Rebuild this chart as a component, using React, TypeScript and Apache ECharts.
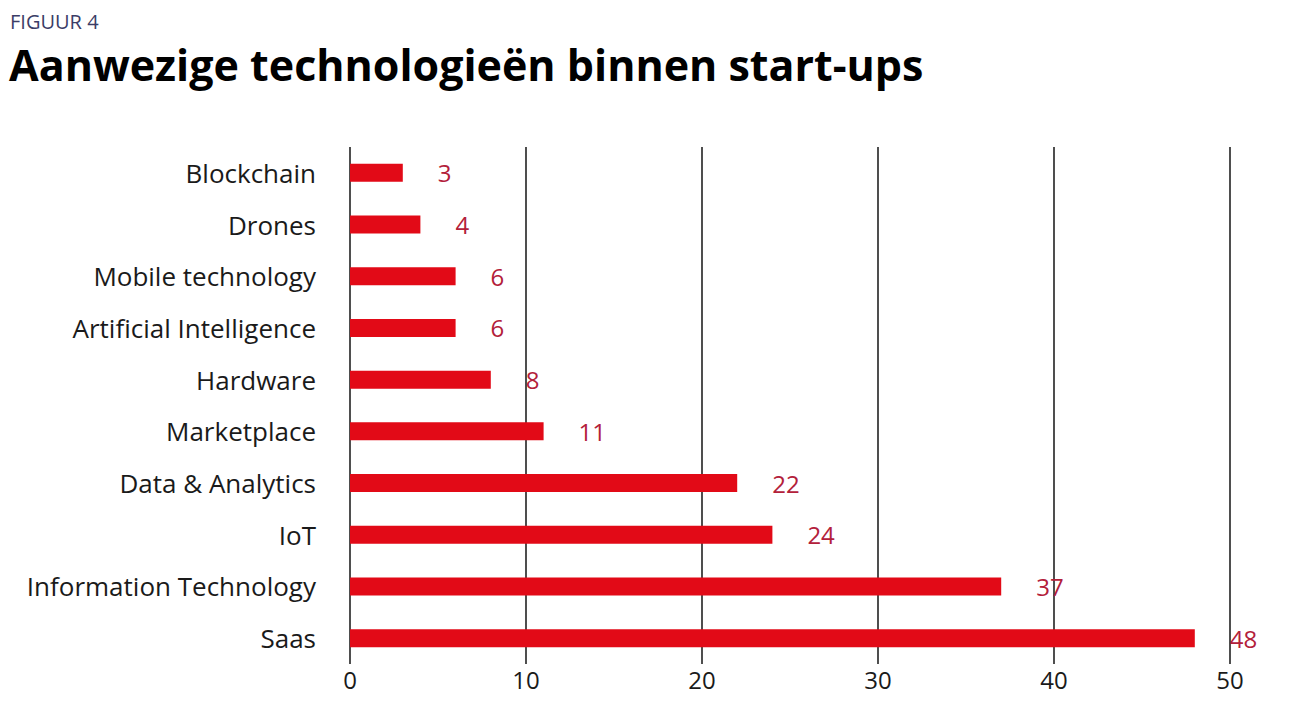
import React, { useEffect, useRef } from "react";
import * as echarts from "echarts";

const categories = [
  "Blockchain",
  "Drones",
  "Mobile technology",
  "Artificial Intelligence",
  "Hardware",
  "Marketplace",
  "Data & Analytics",
  "IoT",
  "Information Technology",
  "Saas",
];
const values = [3, 4, 6, 6, 8, 11, 22, 24, 37, 48];
const xTicks = { min: 0, max: 50, interval: 10 };

const FONT = "'Open Sans', 'Noto Sans', sans-serif";

export default function App() {
  const ref = useRef<HTMLDivElement>(null);
  useEffect(() => {
    document.body.style.margin = "0";
    if (!ref.current) return;
    const chart = echarts.init(ref.current, null, { renderer: "svg" });
    chart.setOption({
      animation: false,
      backgroundColor: "#ffffff",
      textStyle: { fontFamily: FONT },
      graphic: [
        {
          type: "text",
          left: 10,
          top: 11,
          style: { text: "FIGUUR 4", fontSize: 20, fill: "#3b3d67", fontFamily: FONT },
        },
        {
          type: "text",
          left: 9,
          top: 43,
          style: {
            text: "Aanwezige technologieën binnen start-ups",
            fontSize: 43,
            fontWeight: "bold",
            fill: "#000000",
            fontFamily: FONT,
          },
        },
      ],
      grid: { left: 350, right: 62, top: 147, height: 517 },
      xAxis: {
        type: "value",
        min: xTicks.min,
        max: xTicks.max,
        interval: xTicks.interval,
        axisLine: { show: false },
        axisTick: { show: false },
        axisLabel: { fontSize: 24, color: "#1a1a1a", margin: 3, fontFamily: FONT },
        splitLine: { show: true, lineStyle: { color: "#222222", width: 1.6 } },
      },
      yAxis: {
        type: "category",
        data: categories,
        inverse: true,
        axisLine: { show: false },
        axisTick: { show: false },
        axisLabel: { fontSize: 26, color: "#1a1a1a", margin: 34, fontFamily: FONT },
      },
      series: [
        {
          type: "bar",
          data: values,
          barWidth: 18,
          itemStyle: { color: "#e20a17" },
          label: {
            show: true,
            position: "right",
            distance: 35,
            color: "#b3203a",
            fontSize: 24,
            fontFamily: FONT,
          },
        },
      ],
    });
    return () => chart.dispose();
  }, []);
  return <div ref={ref} style={{ width: 1292, height: 720 }} />;
}
